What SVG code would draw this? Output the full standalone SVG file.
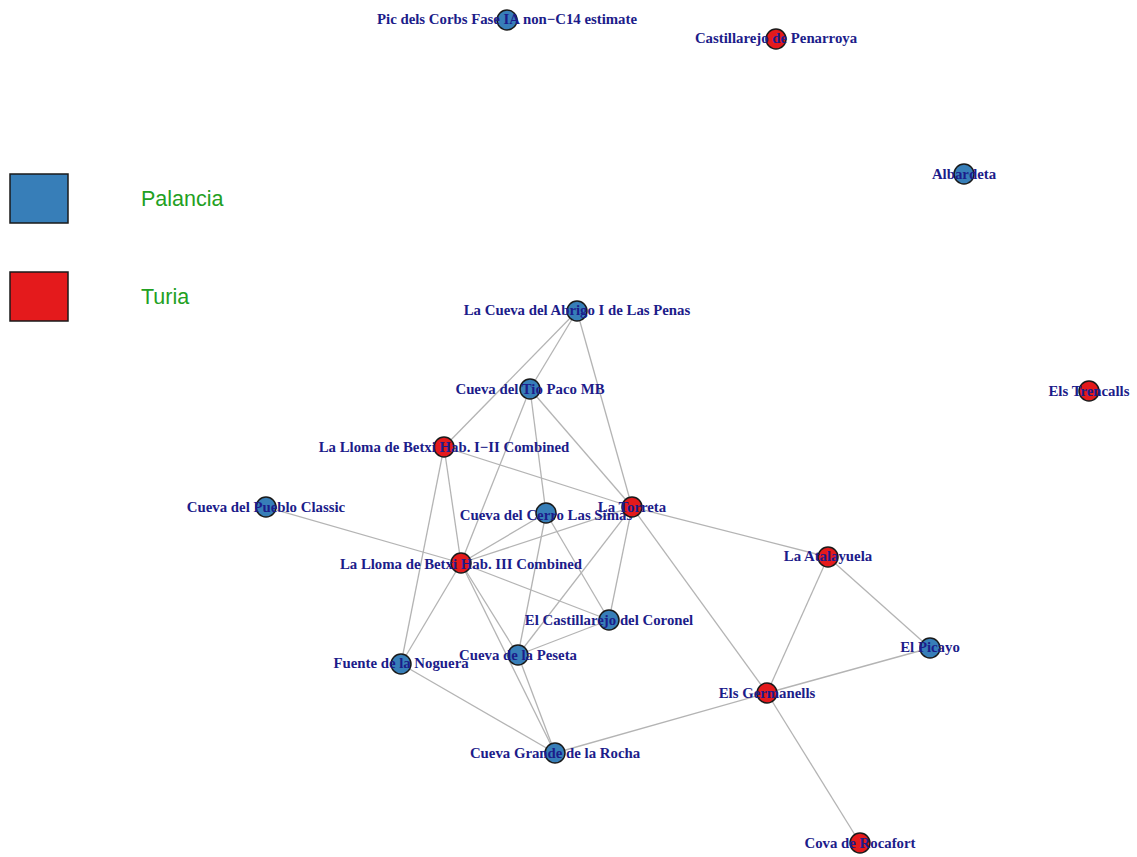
<svg xmlns="http://www.w3.org/2000/svg" width="1137" height="857" viewBox="0 0 1137 857">
<style>
.e{stroke:#b4b4b4;stroke-width:1.3;fill:none}
.pal{fill:#377eb8;stroke:#1a1a1a;stroke-width:1.5}
.tur{fill:#e41a1c;stroke:#1a1a1a;stroke-width:1.5}
.lbl{font-family:"Liberation Serif",serif;font-weight:bold;font-size:14.8px;fill:#1c1c8a;text-anchor:middle}
.leg{font-family:"Liberation Sans",Arial,sans-serif;font-size:21.5px;fill:#22a022}
</style>
<rect width="1137" height="857" fill="#ffffff"/>
<g id="legend">
<rect x="10" y="174" width="58" height="49" class="pal"/>
<text x="141" y="206" class="leg">Palancia</text>
<rect x="10" y="272" width="58" height="49" class="tur"/>
<text x="141" y="304" class="leg">Turia</text>
</g>
<g id="edges">
<line class="e" x1="577" y1="311" x2="530" y2="389"/>
<line class="e" x1="577" y1="311" x2="444" y2="447"/>
<line class="e" x1="577" y1="311" x2="632" y2="507"/>
<line class="e" x1="530" y1="389" x2="461" y2="563"/>
<line class="e" x1="530" y1="389" x2="546" y2="513"/>
<line class="e" x1="530" y1="389" x2="632" y2="507"/>
<line class="e" x1="444" y1="447" x2="632" y2="507"/>
<line class="e" x1="444" y1="447" x2="461" y2="563"/>
<line class="e" x1="444" y1="447" x2="401" y2="664"/>
<line class="e" x1="266" y1="507" x2="461" y2="563"/>
<line class="e" x1="461" y1="563" x2="546" y2="513"/>
<line class="e" x1="461" y1="563" x2="632" y2="507"/>
<line class="e" x1="461" y1="563" x2="609" y2="620"/>
<line class="e" x1="461" y1="563" x2="401" y2="664"/>
<line class="e" x1="461" y1="563" x2="518" y2="655"/>
<line class="e" x1="461" y1="563" x2="555" y2="753"/>
<line class="e" x1="546" y1="513" x2="518" y2="655"/>
<line class="e" x1="546" y1="513" x2="609" y2="620"/>
<line class="e" x1="632" y1="507" x2="609" y2="620"/>
<line class="e" x1="632" y1="507" x2="518" y2="655"/>
<line class="e" x1="632" y1="507" x2="767" y2="693"/>
<line class="e" x1="632" y1="507" x2="828" y2="557"/>
<line class="e" x1="609" y1="620" x2="518" y2="655"/>
<line class="e" x1="518" y1="655" x2="555" y2="753"/>
<line class="e" x1="401" y1="664" x2="555" y2="753"/>
<line class="e" x1="555" y1="753" x2="767" y2="693"/>
<line class="e" x1="828" y1="557" x2="930" y2="648"/>
<line class="e" x1="828" y1="557" x2="767" y2="693"/>
<line class="e" x1="930" y1="648" x2="767" y2="693"/>
<line class="e" x1="767" y1="693" x2="860" y2="843"/>
</g>
<g id="n-picdels"><circle cx="507" cy="20" r="10" class="pal"/><text x="507" y="24" class="lbl">Pic dels Corbs Fase IA non−C14 estimate</text></g>
<g id="n-castpen"><circle cx="776" cy="39" r="10" class="tur"/><text x="776" y="43" class="lbl">Castillarejo de Penarroya</text></g>
<g id="n-albardeta"><circle cx="964" cy="174" r="10" class="pal"/><text x="964" y="179" class="lbl">Albardeta</text></g>
<g id="n-trencalls"><circle cx="1089" cy="391" r="10" class="tur"/><text x="1089" y="396" class="lbl">Els Trencalls</text></g>
<g id="n-abrigo"><circle cx="577" cy="311" r="10" class="pal"/><text x="577" y="315" class="lbl">La Cueva del Abrigo I de Las Penas</text></g>
<g id="n-tiopaco"><circle cx="530" cy="389" r="10" class="pal"/><text x="530" y="394" class="lbl">Cueva del Tio Paco MB</text></g>
<g id="n-lloma12"><circle cx="444" cy="447" r="10" class="tur"/><text x="444" y="452" class="lbl">La Lloma de Betxi Hab. I−II Combined</text></g>
<g id="n-pueblo"><circle cx="266" cy="507" r="10" class="pal"/><text x="266" y="512" class="lbl">Cueva del Pueblo Classic</text></g>
<g id="n-cerro"><circle cx="546" cy="513" r="10" class="pal"/><text x="546" y="520" class="lbl">Cueva del Cerro Las Simas</text></g>
<g id="n-torreta"><circle cx="632" cy="507" r="10" class="tur"/><text x="632" y="512" class="lbl">La Torreta</text></g>
<g id="n-lloma3"><circle cx="461" cy="563" r="10" class="tur"/><text x="461" y="569" class="lbl">La Lloma de Betxi Hab. III Combined</text></g>
<g id="n-atalayuela"><circle cx="828" cy="557" r="10" class="tur"/><text x="828" y="561" class="lbl">La Atalayuela</text></g>
<g id="n-coronel"><circle cx="609" cy="620" r="10" class="pal"/><text x="609" y="625" class="lbl">El Castillarejo del Coronel</text></g>
<g id="n-peseta"><circle cx="518" cy="655" r="10" class="pal"/><text x="518" y="660" class="lbl">Cueva de la Peseta</text></g>
<g id="n-fuente"><circle cx="401" cy="664" r="10" class="pal"/><text x="401" y="668" class="lbl">Fuente de la Noguera</text></g>
<g id="n-picayo"><circle cx="930" cy="648" r="10" class="pal"/><text x="930" y="652" class="lbl">El Picayo</text></g>
<g id="n-germanells"><circle cx="767" cy="693" r="10" class="tur"/><text x="767" y="698" class="lbl">Els Germanells</text></g>
<g id="n-rocha"><circle cx="555" cy="753" r="10" class="pal"/><text x="555" y="758" class="lbl">Cueva Grande de la Rocha</text></g>
<g id="n-rocafort"><circle cx="860" cy="843" r="10" class="tur"/><text x="860" y="848" class="lbl">Cova de Rocafort</text></g>
</svg>
